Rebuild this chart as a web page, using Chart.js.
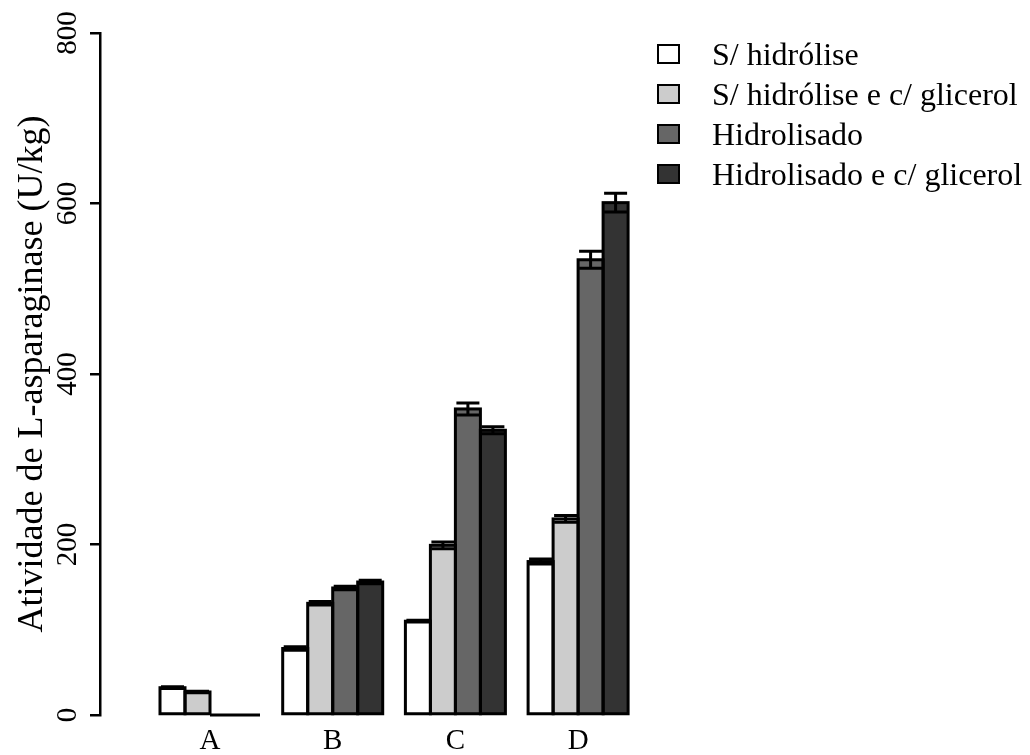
<!DOCTYPE html>
<html>
<head>
<meta charset="utf-8">
<script src="https://cdn.jsdelivr.net/npm/chart.js@4.4.1/dist/chart.umd.min.js"></script>
<style>
  html, body { margin: 0; padding: 0; background: #fff; }
  #wrap { position: relative; width: 1030px; height: 755px; }
  #legend { position: absolute; left: 657px; top: 34px; font-family: "Liberation Serif", serif; font-size: 32px; color: #000; }
  .item { display: flex; align-items: center; height: 40px; white-space: nowrap; }
  .box { box-sizing: border-box; width: 23px; height: 20px; border: 2.5px solid #000; margin-right: 32px; }
</style>
</head>
<body>
<div id="wrap">
  <canvas id="myChart" width="1030" height="755"></canvas>
  <div id="legend"></div>
</div>
<script>
const categories = ['A', 'B', 'C', 'D'];
const seriesNames = ['S/ hidrólise', 'S/ hidrólise e c/ glicerol', 'Hidrolisado', 'Hidrolisado e c/ glicerol'];
const seriesColors = ['#ffffff', '#cccccc', '#666666', '#333333'];

// media por tratamento
const semHidrolise = [32, 78, 110, 180];
const semHidroliseGlicerol = [27, 131, 199, 230];
const hidrolisado = [0, 149, 359, 534];
const hidrolisadoGlicerol = [0, 156, 334, 601];

// desvio (barras de erro)
const errSemHidrolise = [1, 2, 1, 3];
const errSemHidroliseGlicerol = [1, 2, 4, 4];
const errHidrolisado = [0, 2, 7, 10];
const errHidrolisadoGlicerol = [0, 2, 4, 11];

const yTicks = [0, 200, 400, 600, 800];

const allValues = [semHidrolise, semHidroliseGlicerol, hidrolisado, hidrolisadoGlicerol];
const allErrors = [errSemHidrolise, errSemHidroliseGlicerol, errHidrolisado, errHidrolisadoGlicerol];

// legenda
const legend = document.getElementById('legend');
seriesNames.forEach((name, i) => {
  const row = document.createElement('div');
  row.className = 'item';
  row.innerHTML = '<span class="box" style="background:' + seriesColors[i] + '"></span><span>' + name + '</span>';
  legend.appendChild(row);
});

// contorno das barras e barras de erro
const barOutline = {
  id: 'barOutline',
  afterDatasetsDraw(chart) {
    const ctx = chart.ctx;
    const yScale = chart.scales.y;
    ctx.save();
    ctx.strokeStyle = '#000';
    ctx.lineWidth = 3;
    chart.data.datasets.forEach((ds, di) => {
      chart.getDatasetMeta(di).data.forEach(bar => {
        const p = bar.getProps(['x', 'y', 'base', 'width'], true);
        ctx.strokeRect(p.x - p.width / 2, Math.min(p.y, p.base), p.width, Math.abs(p.base - p.y));
      });
    });
    chart.data.datasets.forEach((ds, di) => {
      chart.getDatasetMeta(di).data.forEach((bar, i) => {
        const e = ds.errors[i];
        if (!e) return;
        const p = bar.getProps(['x', 'width'], true);
        const v = ds.data[i].y;
        const yTop = yScale.getPixelForValue(v + e);
        const yBot = yScale.getPixelForValue(v - e);
        const half = p.width / 2 - 1;
        ctx.beginPath();
        ctx.moveTo(p.x, yTop); ctx.lineTo(p.x, yBot);
        ctx.moveTo(p.x - half, yTop); ctx.lineTo(p.x + half, yTop);
        ctx.moveTo(p.x - half, yBot); ctx.lineTo(p.x + half, yBot);
        ctx.stroke();
      });
    });
    ctx.restore();
  }
};

const ctx = document.getElementById('myChart').getContext('2d');
const myChart = new Chart(ctx, {
  type: 'bar',
  data: {
    datasets: allValues.map((vals, k) => ({
      label: seriesNames[k],
      data: vals.map((v, i) => ({ x: i, y: v })),
      errors: allErrors[k],
      backgroundColor: seriesColors[k],
      borderWidth: 0,
      categoryPercentage: 0.815,
      barPercentage: 1
    }))
  },
  options: {
    responsive: false,
    animation: false,
    layout: { padding: { left: 0, right: 390, top: 33, bottom: 0 } },
    plugins: {
      legend: { display: false },
      tooltip: { enabled: false }
    },
    scales: {
      x: {
        type: 'linear',
        offset: false,
        min: -0.8965,
        max: 3.5045,
        grid: { display: false, drawTicks: false, offset: false },
        border: { display: false },
        ticks: {
          stepSize: 1,
          includeBounds: false,
          padding: 9,
          color: '#000',
          font: { family: 'Liberation Serif', size: 29 },
          callback: v => categories[v] ?? ''
        },
        afterFit: s => { s.height = 40; }
      },
      y: {
        min: 0,
        max: 800,
        afterBuildTicks: s => { s.ticks = yTicks.map(v => ({ value: v })); },
        grid: { drawOnChartArea: false, drawTicks: true, tickLength: 10, color: '#000', lineWidth: 2.5 },
        border: { display: true, color: '#000', width: 2.5 },
        ticks: {
          minRotation: 90,
          maxRotation: 90,
          crossAlign: 'center',
          padding: 0,
          color: '#000',
          font: { family: 'Liberation Serif', size: 29 }
        },
        title: {
          display: true,
          text: 'Atividade de L-asparaginase (U/kg)',
          color: '#000',
          font: { family: 'Liberation Serif', size: 36, lineHeight: 1.2 },
          padding: { top: 11, bottom: 0 }
        },
        afterFit: s => { s.width = 100; }
      }
    }
  },
  plugins: [barOutline]
});
</script>
</body>
</html>
